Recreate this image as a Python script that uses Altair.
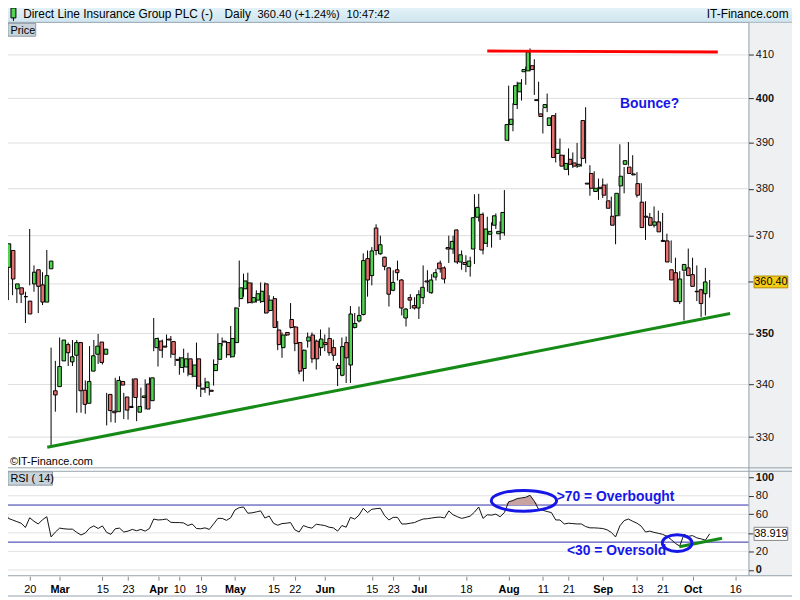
import json
import altair as alt
import pandas as pd

# ---------------- data ----------------
opens = [363.4, 366.9, 359.0, 359.2, 357.4, 356.5, 360.0, 362.9, 359.8, 356.3,
         363.1, 338.8, 339.6, 344.6, 347.8, 344.4, 345.7, 348.2, 338.9, 336.4,
         342.6, 345.9, 348.3, 345.9, 338.1, 334.9, 334.8, 340.6, 337.6, 335.8,
         341.1, 334.7, 337.5, 340.1, 336.9, 347.2, 348.5, 347.5, 348.9, 348.4,
         344.9, 343.3, 343.4, 345.0, 341.6, 345.0, 339.3, 339.4, 338.9, 342.7,
         344.9, 348.5, 348.2, 345.4, 348.2, 357.0, 359.0, 360.2, 356.3, 356.7,
         356.4, 360.0, 354.6, 357.0, 350.7, 347.2, 350.2, 352.8, 351.3, 348.2,
         343.1, 348.5, 349.7, 348.5, 347.2, 348.2, 349.0, 347.2, 343.7, 341.8,
         348.2, 343.8, 351.2, 352.5, 353.8, 365.2, 361.7, 371.6, 366.2, 365.5,
         363.3, 358.7, 362.9, 360.8, 353.1, 357.2, 355.6, 355.1, 357.2, 360.6,
         358.2, 361.4, 364.3, 363.3, 367.5, 367.2, 371.2, 364.5, 364.4, 363.6,
         367.2, 373.9, 374.5, 368.4, 370.3, 372.2, 370.4, 370.6, 390.6, 394.1,
         398.6, 401.5, 406.1, 406.3, 407.5, 399.7, 396.5, 397.9, 393.9, 396.1,
         387.7, 387.3, 384.2, 386.4, 385.6, 384.9, 395.0, 381.2, 383.3, 379.4,
         380.0, 380.8, 377.4, 374.1, 374.2, 380.6, 385.3, 384.7, 383.2, 381.1,
         377.1, 374.1, 373.8, 372.2, 372.9, 369.0, 368.9, 362.9, 362.3, 356.4,
         362.8, 363.3, 361.9, 358.5, 358.8, 358.0]
highs = [371.2, 367.2, 362.4, 359.9, 357.9, 358.4, 371.4, 363.8, 360.0, 362.4,
         367.0, 347.2, 344.6, 349.2, 348.7, 348.2, 348.7, 348.7, 339.4, 340.8,
         347.5, 348.7, 349.9, 347.0, 338.4, 336.3, 341.3, 341.6, 338.4, 336.9,
         341.2, 337.5, 339.4, 341.0, 341.4, 353.1, 349.2, 348.8, 349.8, 349.5,
         346.9, 345.4, 347.0, 346.2, 344.6, 348.2, 340.3, 341.3, 339.4, 344.9,
         350.0, 349.2, 348.5, 351.5, 355.3, 364.8, 362.1, 362.3, 360.3, 358.7,
         360.3, 360.3, 357.7, 357.5, 352.5, 350.2, 350.3, 356.1, 351.5, 348.3,
         346.8, 350.2, 350.2, 348.8, 350.8, 349.8, 351.2, 348.8, 344.2, 349.2,
         349.4, 355.5, 354.1, 355.4, 366.3, 366.9, 367.6, 372.4, 370.0, 365.6,
         363.4, 362.8, 364.8, 361.0, 355.1, 357.9, 357.3, 358.7, 363.8, 362.8,
         362.0, 363.1, 364.8, 363.6, 370.0, 370.0, 371.3, 366.9, 365.9, 365.6,
         378.8, 378.9, 374.9, 374.0, 372.8, 374.7, 373.0, 379.7, 402.9, 398.9,
         403.8, 404.4, 407.3, 411.5, 409.0, 403.8, 397.8, 401.1, 395.8, 396.7,
         391.0, 387.4, 388.8, 387.9, 390.0, 386.9, 398.0, 385.1, 383.8, 382.2,
         382.2, 381.1, 378.3, 374.4, 389.7, 384.7, 390.2, 387.3, 383.6, 381.2,
         377.3, 374.8, 376.2, 375.3, 374.8, 370.4, 369.0, 365.4, 362.6, 362.6,
         367.3, 365.4, 363.8, 359.0, 363.3, 360.8]
lows = [363.2, 356.7, 357.7, 356.1, 356.1, 352.1, 359.7, 358.4, 354.1, 355.7,
        361.2, 328.1, 334.8, 343.6, 345.2, 343.6, 343.6, 334.6, 334.6, 334.4,
        339.7, 345.0, 344.0, 343.9, 332.2, 332.8, 332.7, 338.4, 333.4, 333.3,
        335.6, 333.0, 335.7, 335.2, 335.3, 346.5, 343.5, 345.2, 347.5, 345.2,
        343.6, 341.9, 342.3, 341.6, 341.4, 339.1, 337.6, 338.4, 337.9, 339.8,
        343.9, 347.5, 345.2, 345.2, 345.9, 355.3, 357.4, 356.0, 356.0, 356.2,
        356.1, 354.0, 354.4, 351.1, 346.7, 345.2, 349.5, 351.0, 346.5, 342.0,
        340.6, 347.2, 344.2, 342.9, 345.6, 346.5, 345.6, 344.6, 339.7, 341.6,
        340.3, 340.3, 351.0, 352.2, 353.6, 357.4, 359.7, 365.9, 366.0, 362.8,
        355.4, 358.5, 360.7, 353.6, 351.4, 354.9, 354.8, 352.9, 355.9, 358.4,
        358.0, 360.7, 362.3, 360.1, 364.3, 366.2, 364.1, 362.9, 362.4, 361.5,
        364.1, 373.0, 366.1, 367.6, 367.5, 371.4, 369.1, 370.0, 390.4, 392.6,
        397.6, 399.5, 403.1, 406.2, 400.8, 396.5, 392.1, 396.9, 388.6, 385.7,
        386.1, 384.2, 382.9, 384.5, 384.5, 384.8, 385.5, 378.5, 379.4, 377.6,
        378.0, 377.6, 374.1, 368.2, 374.1, 379.0, 385.0, 382.9, 378.1, 375.3,
        369.1, 372.0, 371.7, 372.0, 368.8, 368.0, 364.3, 360.5, 355.9, 352.6,
        362.4, 360.3, 356.5, 353.3, 353.6, 357.2]
closes = [368.3, 361.0, 360.0, 357.9, 357.4, 353.9, 362.4, 359.5, 356.3, 361.7,
          364.7, 338.0, 343.5, 348.7, 346.2, 345.4, 348.2, 338.8, 336.2, 340.6,
          345.6, 347.5, 344.3, 346.9, 335.0, 334.6, 340.8, 339.9, 335.1, 335.6,
          337.5, 335.8, 337.8, 335.3, 341.3, 349.0, 346.7, 347.3, 348.7, 345.9,
          344.7, 345.2, 345.0, 342.0, 343.8, 339.7, 339.1, 340.5, 338.7, 343.9,
          348.0, 348.3, 345.8, 349.0, 355.1, 359.2, 360.6, 356.2, 357.2, 358.0,
          358.5, 354.1, 356.7, 351.2, 347.8, 349.7, 349.7, 351.2, 348.0, 342.6,
          346.7, 349.3, 345.0, 345.0, 348.9, 347.8, 346.2, 345.7, 343.1, 347.4,
          345.2, 353.9, 352.0, 353.6, 364.8, 360.8, 366.8, 366.9, 368.1, 363.6,
          357.9, 360.3, 362.3, 355.1, 354.9, 356.7, 355.1, 357.8, 359.3, 360.4,
          360.8, 362.3, 363.1, 361.0, 367.2, 368.8, 364.5, 366.0, 364.0, 364.7,
          373.8, 376.0, 367.0, 371.4, 370.9, 374.2, 370.9, 374.9, 394.1, 395.3,
          402.9, 403.5, 406.6, 410.7, 406.6, 399.5, 395.9, 398.6, 395.6, 386.8,
          388.6, 384.9, 385.5, 385.3, 384.9, 385.3, 386.6, 381.0, 380.1, 380.1,
          380.3, 378.6, 375.8, 372.2, 379.0, 382.7, 386.1, 383.3, 383.0, 378.6,
          371.7, 373.9, 372.2, 372.9, 370.8, 368.8, 364.5, 360.8, 356.4, 361.0,
          364.0, 361.7, 359.5, 358.4, 356.0, 360.4]
rsi_values = [67.2, 55.6, 53.9, 52.1, 50.4, 45.8, 56.3, 52.5, 49.6, 54.2,
              57.4, 35.6, 40.9, 45.1, 44.4, 44.0, 44.0, 40.5, 37.7, 39.8,
              45.1, 47.5, 44.7, 47.5, 40.5, 38.4, 44.4, 45.1, 40.9, 41.9,
              43.7, 42.3, 43.7, 41.9, 44.7, 54.9, 53.9, 54.2, 54.9, 51.4,
              51.1, 51.1, 50.7, 47.9, 49.6, 44.7, 44.4, 45.4, 43.7, 49.6,
              55.6, 55.6, 53.5, 56.3, 64.7, 67.2, 67.9, 61.2, 61.6, 62.6,
              63.7, 56.0, 58.1, 50.4, 48.2, 50.0, 50.4, 51.1, 43.3, 40.9,
              47.9, 46.1, 45.1, 49.3, 48.6, 47.9, 46.1, 45.4, 41.9, 47.9,
              46.1, 56.7, 54.9, 59.1, 66.5, 61.9, 65.4, 66.1, 66.5, 58.4,
              53.9, 56.7, 56.7, 49.6, 49.6, 50.4, 51.1, 53.2, 54.9, 55.3,
              56.0, 56.7, 57.0, 56.0, 63.7, 59.5, 57.4, 55.6, 56.7, 58.1,
              62.3, 67.9, 55.6, 59.5, 59.1, 60.2, 57.4, 61.9, 73.5, 74.9,
              77.0, 77.7, 78.4, 80.5, 74.2, 65.4, 64.4, 63.0, 61.9, 53.9,
              53.9, 49.6, 50.4, 50.0, 49.6, 49.6, 46.8, 45.4, 45.4, 45.1,
              44.7, 43.3, 40.5, 35.6, 47.5, 53.2, 54.9, 52.5, 50.4, 47.2,
              40.9, 41.9, 40.5, 39.5, 38.4, 36.3, 32.8, 28.6, 25.8, 38.4,
              36.3, 37.0, 34.6, 33.5, 32.1, 38.919]

tick_index = [6, 13, 23, 29, 36, 41, 46, 54, 63, 68, 75, 86, 91, 97, 108,
              118, 126, 132, 140, 148, 154, 161, 171]
tick_labels = ["20", "Mar", "15", "23", "Apr", "10", "19", "May", "15", "22",
               "Jun", "15", "23", "Jul", "18", "Aug", "11", "21", "Sep", "13",
               "21", "Oct", "16"]
month_index = [13, 36, 54, 75, 97, 118, 140, 161]

price_grid = [330, 340, 350, 360, 370, 380, 390, 400, 410]
price_labels = [330, 340, 350, 370, 380, 390, 400, 410]
rsi_grid = [0, 20, 40, 60, 80, 100]
rsi_labels = [0, 20, 60, 80, 100]
rsi_levels = [30, 70]
last_price = [360.40]
last_rsi = [38.919]

resistance_i = [113.0, 166.9]
resistance_p = [410.9, 410.7]
support_i = [10.1, 169.8]
support_p = [328.1, 354.0]
rsi_trend_i = [157.9, 167.9]
rsi_trend_v = [25.0, 34.2]

# ---------------- styling ----------------
FONT = "Liberation Sans"
GREEN = "#52d452"
RED = "#e87070"
ANN_BLUE = "#1616e6"
FRAME = "#95a3ad"

XS = alt.Scale(domain=[-0.926, 174.07], range=[0, 756], nice=False, zero=False)
YP = alt.Scale(type="log", domain=[324.2, 418.0], range=[470, 18], nice=False)
YR = alt.Scale(domain=[-5.7, 106.4], range=[578, 473], nice=False, zero=False)

one = pd.DataFrame({"k": [0]})


def px_rect(x1, x2, y1, y2, **kw):
    return alt.Chart(one).mark_rect(**kw).encode(
        x=alt.value(x1), x2=alt.value(x2), y=alt.value(y1), y2=alt.value(y2))


def px_rule(x1, x2, y1, y2, color, width=1):
    return alt.Chart(one).mark_rule(color=color, strokeWidth=width).encode(
        x=alt.value(x1), x2=alt.value(x2), y=alt.value(y1), y2=alt.value(y2))


def px_text(x, y, text, size=12, weight="normal", color="#000",
            align="left", baseline="alphabetic"):
    return alt.Chart(one).mark_text(
        text=text, font=FONT, fontSize=size, fontWeight=weight, color=color,
        align=align, baseline=baseline).encode(x=alt.value(x), y=alt.value(y))


n = len(closes)
candles = pd.DataFrame({"i": list(range(n)), "o": opens, "h": highs,
                        "l": lows, "c": closes, "r": rsi_values})

layers = []

# header
grad = alt.LinearGradient(
    gradient="linear",
    stops=[alt.GradientStop(color="#eaf6fb", offset=0),
           alt.GradientStop(color="#cfe5ee", offset=1)],
    x1=0, x2=0, y1=0, y2=1)
layers.append(px_rect(0, 800, 0, 19.5, color=grad))
layers.append(px_rule(0, 800, 19.5, 19.5, FRAME))
layers.append(px_rule(13.5, 13.5, 2, 18, "#000"))
layers.append(px_rect(11, 16, 5, 15, fill=GREEN, stroke="#000", strokeWidth=1))
layers.append(px_text(23.3, 15, "Direct Line Insurance Group PLC (-)"))
layers.append(px_text(226.7, 15, "Daily"))
layers.append(px_text(260, 15, "360.40 (+1.24%)", size=11.2))
layers.append(px_text(350, 15, "10:47:42", size=11.2))
layers.append(px_text(796.5, 15, "IT-Finance.com", align="right"))

# right axis column and frames
layers.append(px_rect(756, 800, 20, 578.5, color="#eef0f2"))
layers.append(px_rule(0, 800, 469.5, 469.5, FRAME))
layers.append(px_rule(0, 800, 473, 473, FRAME))
layers.append(px_rule(0, 800, 578.5, 578.5, FRAME))
layers.append(px_rule(0, 800, 599, 599, FRAME))
layers.append(px_rule(756.5, 756.5, 19.5, 578.5, FRAME))

# price gridlines + price axis
price_axis = alt.Axis(
    orient="right", offset=-44, values=price_labels, format=".0f",
    grid=False, domain=False, tickSize=5, tickColor="#333", labelPadding=2,
    labelFont=FONT, labelFontSize=11, labelColor="#111", title=None,
    labelOverlap=False, labelFlush=False, zindex=1,
    labelFontWeight={"condition": {"test": "datum.value % 50 == 0", "value": "bold"},
                     "value": "normal"})
layers.append(
    alt.Chart(pd.DataFrame({"v": price_grid})).mark_rule(color="#dedede", strokeWidth=1)
    .encode(y=alt.Y("v:Q", scale=YP, axis=price_axis), x=alt.value(0), x2=alt.value(756)))

# RSI gridlines + axis
rsi_axis = alt.Axis(
    orient="right", offset=-44, values=rsi_labels, format=".0f",
    grid=False, domain=False, tickSize=5, tickColor="#333", labelPadding=2,
    labelFont=FONT, labelFontSize=11, labelColor="#111", title=None,
    labelOverlap=False, labelFlush=False, zindex=1,
    labelFontWeight={"condition": {"test": "datum.value % 100 == 0", "value": "bold"},
                     "value": "normal"})
layers.append(
    alt.Chart(pd.DataFrame({"v": rsi_grid})).mark_rule(color="#e2e2e2", strokeWidth=1)
    .encode(y=alt.Y("v:Q", scale=YR, axis=rsi_axis), x=alt.value(0), x2=alt.value(756)))

# panel labels (kept clear of the page margin)
layers.append(px_rect(8, 36, 20.5, 33.5, fill="#c9d3da", stroke="#8d9ba6", strokeWidth=1))
layers.append(px_text(10.5, 31, "Price", size=11))
layers.append(px_rect(8, 53, 473.5, 487, fill="#c9d3da", stroke="#8d9ba6", strokeWidth=1))
layers.append(px_text(10.5, 484, "RSI ( 14)", size=11))
layers.append(px_text(10, 467, "©IT-Finance.com", size=11))

# x axis (trading-day index)
x_axis = alt.Axis(
    orient="bottom", offset=-21, values=tick_index,
    labelExpr=f"{json.dumps(tick_labels)}[indexof({json.dumps(tick_index)}, datum.value)]",
    labelFontWeight={"condition": {"test": f"indexof({json.dumps(month_index)}, datum.value) >= 0",
                                   "value": "bold"}, "value": "normal"},
    grid=False, domain=False, tickSize=4, tickColor="#888", labelPadding=3,
    labelFont=FONT, labelFontSize=11, labelColor="#000", title=None,
    labelOverlap=False, labelFlush=False, zindex=1)

# candles
layers.append(
    alt.Chart(candles).mark_rule(color="#000", strokeWidth=1).encode(
        x=alt.X("i:Q", scale=XS, axis=x_axis),
        y=alt.Y("l:Q", scale=YP, axis=None), y2="h:Q"))
layers.append(
    alt.Chart(candles).mark_bar(size=3.6, stroke="#000", strokeWidth=1).encode(
        x=alt.X("i:Q", scale=XS, axis=None),
        y=alt.Y("o:Q", scale=YP, axis=None), y2="c:Q",
        color=alt.condition("datum.c >= datum.o", alt.value(GREEN), alt.value(RED))))

# hand-drawn trend lines on price panel
layers.append(
    alt.Chart(pd.DataFrame({"i": resistance_i, "p": resistance_p}))
    .mark_line(color="#ff0000", strokeWidth=3).encode(
        x=alt.X("i:Q", scale=XS, axis=None), y=alt.Y("p:Q", scale=YP, axis=None)))
layers.append(
    alt.Chart(pd.DataFrame({"i": support_i, "p": support_p}))
    .mark_line(color="#168a16", strokeWidth=3).encode(
        x=alt.X("i:Q", scale=XS, axis=None), y=alt.Y("p:Q", scale=YP, axis=None)))

# last price marker
BOX = "M -1 -0.35 L 1 -0.35 L 1 0.35 L -1 0.35 Z"
lp = pd.DataFrame({"v": last_price})
layers.append(alt.Chart(lp).mark_rule(color="#333").encode(
    y=alt.Y("v:Q", scale=YP, axis=None), x=alt.value(756), x2=alt.value(761)))
layers.append(alt.Chart(lp).mark_point(
    shape=BOX, size=34 * 34, filled=True, fill="#f7cb15", stroke="#b08c00",
    strokeWidth=1, opacity=1).encode(
    x=alt.value(778.7), y=alt.Y("v:Q", scale=YP, axis=None)))
layers.append(alt.Chart(lp).mark_text(
    font=FONT, fontSize=11, color="#000", align="center", baseline="middle").encode(
    x=alt.value(778.7), y=alt.Y("v:Q", scale=YP, axis=None),
    text=alt.Text("v:Q", format=".2f")))

# RSI panel
layers.append(
    alt.Chart(pd.DataFrame({"v": rsi_levels})).mark_rule(color="#2e2ea8", strokeWidth=1)
    .encode(y=alt.Y("v:Q", scale=YR, axis=None), x=alt.value(0), x2=alt.value(756)))
ob = candles[(candles.i >= 116) & (candles.i <= 126)]
layers.append(
    alt.Chart(ob).transform_calculate(top="max(datum.r, 70)", base="70")
    .mark_area(color="#c9a2a2", opacity=1).encode(
        x=alt.X("i:Q", scale=XS, axis=None),
        y=alt.Y("top:Q", scale=YR, axis=None), y2="base:Q"))
layers.append(
    alt.Chart(candles).mark_line(color="#111", strokeWidth=1).encode(
        x=alt.X("i:Q", scale=XS, axis=None),
        y=alt.Y("r:Q", scale=YR, axis=None)))
layers.append(
    alt.Chart(pd.DataFrame({"i": rsi_trend_i, "v": rsi_trend_v}))
    .mark_line(color="#168a16", strokeWidth=3).encode(
        x=alt.X("i:Q", scale=XS, axis=None), y=alt.Y("v:Q", scale=YR, axis=None)))

lr = pd.DataFrame({"v": last_rsi})
layers.append(alt.Chart(lr).mark_rule(color="#333").encode(
    y=alt.Y("v:Q", scale=YR, axis=None), x=alt.value(756), x2=alt.value(761)))
layers.append(alt.Chart(lr).mark_point(
    shape="M -1 -0.39 L 1 -0.39 L 1 0.39 L -1 0.39 Z", size=34 * 34, filled=True,
    fill="#ffffff", stroke="#888888", strokeWidth=1, opacity=1).encode(
    x=alt.value(778.7), y=alt.Y("v:Q", scale=YR, axis=None)))
layers.append(alt.Chart(lr).mark_text(
    font=FONT, fontSize=11, color="#000", align="center", baseline="middle").encode(
    x=alt.value(778.7), y=alt.Y("v:Q", scale=YR, axis=None),
    text=alt.Text("v:Q", format=".3f")))

# annotations
layers.append(px_text(656.2, 101.7, "Bounce?", size=14, weight="bold",
                      color=ANN_BLUE, align="center", baseline="middle"))
layers.append(px_text(562.3, 499.3, ">70 = Overbought", size=14, weight="bold",
                      color=ANN_BLUE, baseline="middle"))
layers.append(px_text(572.7, 553.3, "<30 = Oversold", size=14, weight="bold",
                      color=ANN_BLUE, baseline="middle"))
ELL1 = "M -1 0 A 1 0.318 0 1 0 1 0 A 1 0.318 0 1 0 -1 0 Z"
ELL2 = "M -1 0 A 1 0.567 0 1 0 1 0 A 1 0.567 0 1 0 -1 0 Z"
layers.append(alt.Chart(one).mark_point(
    shape=ELL1, size=66 * 66, filled=False, color=ANN_BLUE, stroke=ANN_BLUE,
    strokeWidth=3, opacity=1).encode(x=alt.value(529.2), y=alt.value(502.8)))
layers.append(alt.Chart(one).mark_point(
    shape=ELL2, size=30 * 30, filled=False, color=ANN_BLUE, stroke=ANN_BLUE,
    strokeWidth=3, opacity=1).encode(x=alt.value(684), y=alt.value(545.5)))

chart = (
    alt.layer(*layers)
    .resolve_scale(x="independent", y="independent")
    .properties(width=800, height=600,
                padding={"left": -8, "top": -8, "right": 0, "bottom": 0},
                autosize=alt.AutoSizeParams(type="none"))
    .configure(background="white")
    .configure_view(stroke=None)
)

chart.save("out.html", embed_options={"renderer": "svg", "actions": False})
